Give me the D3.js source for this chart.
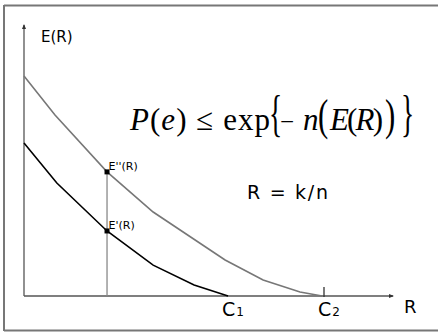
<!DOCTYPE html>
<html><head><meta charset="utf-8">
<script src="https://cdn.jsdelivr.net/npm/d3@7"></script>
<style>html,body{margin:0;padding:0;background:#fff}svg{display:block}</style>
</head><body>
<svg id="c" width="438" height="332"></svg>
<script>
// Data (R = rate, E = error exponent)
const upperR = [0, 0.084, 0.225, 0.350, 0.545, 0.648, 0.748, 0.808];
const upperE = [0.812, 0.668, 0.458, 0.310, 0.133, 0.059, 0.015, 0];
const lowerR = [0, 0.089, 0.225, 0.350, 0.461, 0.553];
const lowerE = [0.565, 0.417, 0.240, 0.114, 0.041, 0];
const capacityR = [0.553, 0.813];
const capacityLabels = ["1", "2"];
const markerR = 0.225;
const markerLabels = ["E''(R)", "E'(R)"];

const svg = d3.select("#c");
const x = d3.scaleLinear().domain([0, 1]).range([24, 393]);
const y = d3.scaleLinear().domain([0, 1]).range([296, 25]);

// frame
svg.append("path").attr("d", "M4,5.5 H438 M4,5 V331 M4,330.5 H438")
  .attr("stroke", "#777").attr("stroke-width", 2).attr("fill", "none");

// axes
svg.append("line").attr("x1", x(0)).attr("x2", x(1)).attr("y1", y(0)).attr("y2", y(0))
  .attr("stroke", "#555").attr("stroke-width", 1.3);
svg.append("line").attr("x1", x(0)).attr("x2", x(0)).attr("y1", y(0)).attr("y2", y(1))
  .attr("stroke", "#555").attr("stroke-width", 1.3);
svg.append("path").attr("d", `M${x(1)+1},${y(0)} l-5,-2 v4 z`).attr("fill", "#333");
svg.append("path").attr("d", `M${x(0)},${y(1)-1} l-2,5 h4 z`).attr("fill", "#333");

const line = d3.line().x(d => x(d[0])).y(d => y(d[1]));
const upper = upperR.map((r, i) => [r, upperE[i]]);
const lower = lowerR.map((r, i) => [r, lowerE[i]]);

// vertical marker line
const uE = upperE[upperR.indexOf(markerR)], lE = lowerE[lowerR.indexOf(markerR)];
svg.append("line").attr("x1", x(markerR)).attr("x2", x(markerR)).attr("y1", y(uE)).attr("y2", y(0))
  .attr("stroke", "#888").attr("stroke-width", 1.3);

svg.append("path").attr("d", line(upper)).attr("fill", "none").attr("stroke", "#777").attr("stroke-width", 1.6);
svg.append("path").attr("d", line(lower)).attr("fill", "none").attr("stroke", "#000").attr("stroke-width", 1.6);

[uE, lE].forEach((e, i) => {
  svg.append("rect").attr("x", x(markerR) - 2.5).attr("y", y(e) - 2.5).attr("width", 5).attr("height", 5).attr("fill", "#000");
  svg.append("text").attr("x", x(markerR) + 1.5).attr("y", y(e) - 2)
    .attr("font-family", "DejaVu Sans").attr("font-size", 11).text(markerLabels[i]);
});

// capacity tick at C2
svg.append("line").attr("x1", x(capacityR[1])).attr("x2", x(capacityR[1])).attr("y1", y(0) - 9).attr("y2", y(0) + 1)
  .attr("stroke", "#333").attr("stroke-width", 1.3);

capacityR.forEach((c, i) => {
  const t = svg.append("text").attr("x", x(c) - 6).attr("y", 316)
    .attr("font-family", "DejaVu Sans").attr("font-size", 19);
  t.append("tspan").text("C");
  t.append("tspan").attr("font-size", 12).attr("dx", 1).text(capacityLabels[i]);
});

const sans = "DejaVu Sans";
svg.append("text").attr("x", 41).attr("y", 42).attr("font-family", sans).attr("font-size", 15).text("E(R)");
svg.append("text").attr("x", 404).attr("y", 313).attr("font-family", sans).attr("font-size", 18).text("R");
svg.append("text").attr("x", 247).attr("y", 199).attr("font-family", sans).attr("font-size", 19)
  .attr("textLength", 81).attr("lengthAdjust", "spacing").text("R = k/n");

// formula  P(e) ≤ exp{− n(E(R))}
const serif = "Liberation Serif";
function piece(px, parts, size, len, sx) {
  const t = svg.append("text").attr("font-family", serif).attr("font-size", size)
    .attr("transform", `translate(${px},130) scale(${sx || 1},1)`);
  parts.forEach(p => t.append("tspan").attr("font-style", p[1]).text(p[0]));
  if (len) t.attr("textLength", len).attr("lengthAdjust", "spacing");
  return t;
}
piece(130, [["P", "italic"], ["(", "normal"], ["e", "italic"], [")", "normal"], [" ≤ exp", "normal"]], 31, 140);
piece(269, [["{", "normal"]], 50, null, 0.55);
piece(280, [["−", "normal"]], 25);
piece(303, [["n", "italic"]], 31);
piece(318, [["(", "normal"]], 44, null, 0.7);
piece(330, [["E", "italic"], ["(", "normal"], ["R", "italic"], [")", "normal"]], 31, 53);
piece(385, [[")", "normal"]], 44, null, 0.7);
piece(401, [["}", "normal"]], 50, null, 0.55);
</script>
</body></html>
